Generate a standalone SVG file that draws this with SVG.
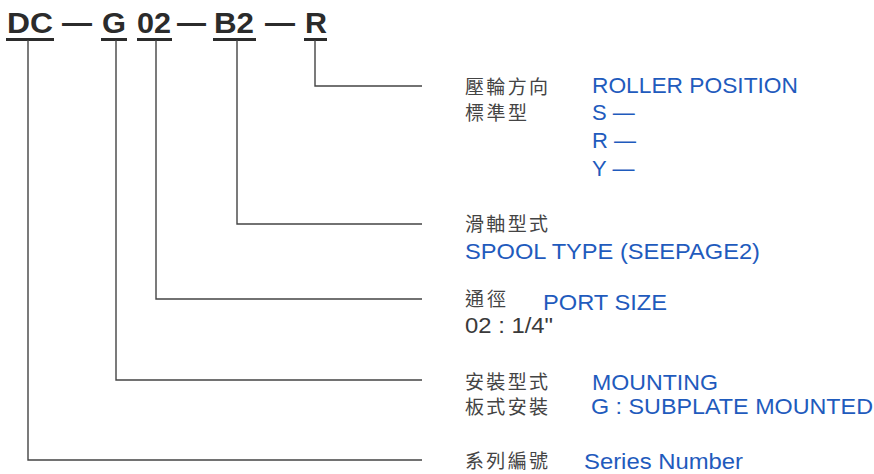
<svg xmlns="http://www.w3.org/2000/svg" width="874" height="474" viewBox="0 0 874 474">
<style>
.code{font-family:"Liberation Sans",Arial,sans-serif;font-weight:bold;font-size:29px;fill:#2b2b2b}
.ul{fill:#2b2b2b}
.conn{fill:none;stroke:#444;stroke-width:1.4}
.zh{font-family:"Noto Sans CJK TC","Noto Sans CJK SC",sans-serif;font-size:19px;fill:#444}
.en{font-family:"Liberation Sans",Arial,sans-serif;font-size:22px;fill:#1f5bbd}
.blk{font-family:"Liberation Sans",Arial,sans-serif;font-size:22px;fill:#3a3a3a}
</style>
<rect width="874" height="474" fill="#fff"/>
<g id="code">
  <g id="seg-DC"><text class="code" x="7" y="33" textLength="46" lengthAdjust="spacingAndGlyphs">DC</text><rect class="ul" x="6" y="38" width="48" height="3"/></g>
  <text class="code" x="62" y="33" textLength="30" lengthAdjust="spacingAndGlyphs">—</text>
  <g id="seg-G"><text class="code" x="102" y="33" textLength="24" lengthAdjust="spacingAndGlyphs">G</text><rect class="ul" x="101" y="38" width="26" height="3"/></g>
  <g id="seg-02"><text class="code" x="137" y="33" textLength="34" lengthAdjust="spacingAndGlyphs">02</text><rect class="ul" x="137" y="38" width="35" height="3"/></g>
  <text class="code" x="177" y="33" textLength="29" lengthAdjust="spacingAndGlyphs">—</text>
  <g id="seg-B2"><text class="code" x="214" y="33" textLength="40" lengthAdjust="spacingAndGlyphs">B2</text><rect class="ul" x="213" y="38" width="43" height="3"/></g>
  <text class="code" x="265" y="33" textLength="30" lengthAdjust="spacingAndGlyphs">—</text>
  <g id="seg-R"><text class="code" x="305" y="33" textLength="22" lengthAdjust="spacingAndGlyphs">R</text><rect class="ul" x="304" y="38" width="23" height="3"/></g>
</g>
<g id="connectors">
  <path class="conn" d="M315,40 V86 H422"/>
  <path class="conn" d="M237,40 V224 H422"/>
  <path class="conn" d="M156,40 V299 H422"/>
  <path class="conn" d="M116,40 V380 H422"/>
  <path class="conn" d="M28,40 V460 H422"/>
</g>
<g id="roller">
  <text class="zh" x="465" y="94" textLength="83" lengthAdjust="spacing">壓輪方向</text>
  <text class="zh" x="465" y="120" textLength="62" lengthAdjust="spacing">標準型</text>
  <text class="en" x="592" y="93" textLength="206" lengthAdjust="spacingAndGlyphs">ROLLER POSITION</text>
  <text class="en" x="592" y="120">S —</text>
  <text class="en" x="592" y="148">R —</text>
  <text class="en" x="592" y="176">Y —</text>
</g>
<g id="spool">
  <text class="zh" x="465" y="231" textLength="83" lengthAdjust="spacing">滑軸型式</text>
  <text class="en" x="465" y="259" textLength="295" lengthAdjust="spacingAndGlyphs">SPOOL TYPE (SEEPAGE2)</text>
</g>
<g id="port">
  <text class="zh" x="465" y="306" textLength="41" lengthAdjust="spacing">通徑</text>
  <text class="en" x="543" y="310" textLength="124" lengthAdjust="spacingAndGlyphs">PORT SIZE</text>
  <text class="blk" x="465" y="333" textLength="88" lengthAdjust="spacingAndGlyphs">02 : 1/4"</text>
</g>
<g id="mounting">
  <text class="zh" x="465" y="389" textLength="83" lengthAdjust="spacing">安裝型式</text>
  <text class="zh" x="465" y="414" textLength="83" lengthAdjust="spacing">板式安裝</text>
  <text class="en" x="592" y="390" textLength="126" lengthAdjust="spacingAndGlyphs">MOUNTING</text>
  <text class="en" x="591" y="414" textLength="282" lengthAdjust="spacingAndGlyphs">G : SUBPLATE MOUNTED</text>
</g>
<g id="series">
  <text class="zh" x="465" y="468" textLength="83" lengthAdjust="spacing">系列編號</text>
  <text class="en" x="584" y="469" textLength="159" lengthAdjust="spacingAndGlyphs">Series Number</text>
</g>
</svg>
